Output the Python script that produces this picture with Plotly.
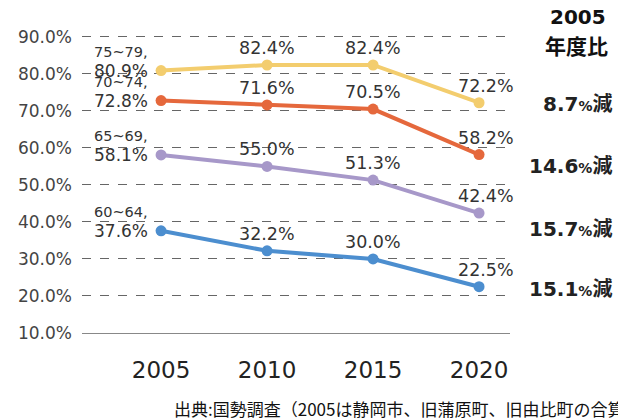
import plotly.graph_objects as go

# Census years and employment rate (%) by age group
years = [2005, 2010, 2015, 2020]
groups = ["75~79", "70~74", "65~69", "60~64"]
rate_75_79 = [80.9, 82.4, 82.4, 72.2]
rate_70_74 = [72.8, 71.6, 70.5, 58.2]
rate_65_69 = [58.1, 55.0, 51.3, 42.4]
rate_60_64 = [37.6, 32.2, 30.0, 22.5]
y_ticks = [10, 20, 30, 40, 50, 60, 70, 80, 90]
source_note = "出典:国勢調査（2005は静岡市、旧蒲原町、旧由比町の合算"

series = [rate_75_79, rate_70_74, rate_65_69, rate_60_64]
colors = ["#F3CD6E", "#E5683C", "#A798C9", "#4C8ECF"]
# vertical spot for each "% decrease vs 2005" note on the right
note_y = [72.4, 55.6, 38.6, 22.4]

L, R, T, B = 82, 108, 35, 87
W, H = 618, 420
PW, PH = W - L - R, H - T - B


def px_x(p):
    return (p - L) / PW


def px_y(p):
    return (H - B - p) / PH


label_font = "DejaVu Sans, sans-serif"
fig = go.Figure()
for vals, col in zip(series, colors):
    fig.add_trace(go.Scatter(
        x=years, y=vals, mode="lines+markers",
        line=dict(color=col, width=4),
        marker=dict(color=col, size=11),
        hoverinfo="skip", showlegend=False, cliponaxis=False,
    ))

ann = []
for g, vals, ny in zip(groups, series, note_y):
    # first-year label: group name above value, left of the point
    ann.append(dict(x=years[0], y=vals[0], xref="x", yref="y", text=g + ",",
                    showarrow=False, xanchor="right", yanchor="middle",
                    xshift=-12, yshift=19, borderpad=0,
                    font=dict(family=label_font, size=14.5, color="#333")))
    ann.append(dict(x=years[0], y=vals[0], xref="x", yref="y",
                    text=f"{vals[0]:.1f}%",
                    showarrow=False, xanchor="right", yanchor="middle",
                    xshift=-12, yshift=0, borderpad=0,
                    font=dict(family=label_font, size=17, color="#333")))
    for i in range(1, len(years)):
        ann.append(dict(x=years[i], y=vals[i], xref="x", yref="y",
                        text=f"{vals[i]:.1f}%", showarrow=False,
                        xanchor="center", yanchor="middle",
                        xshift=7 if i == len(years) - 1 else 0, yshift=17,
                        font=dict(family=label_font, size=17.5, color="#333")))
    drop = vals[0] - vals[-1]
    ann.append(dict(x=px_x(614), y=ny, xref="paper", yref="y",
                    text=(f"<b>{drop:.1f}<span style='font-size:14px'>%</span>"
                          f"<span style='font-family:Noto Sans CJK JP'>減</span></b>"),
                    showarrow=False, xanchor="right", yanchor="middle",
                    font=dict(family="DejaVu Sans", size=20, color="#222")))

ann.append(dict(x=px_x(578), y=px_y(17), xref="paper", yref="paper",
                text="<b>2005</b>",
                showarrow=False, xanchor="center", yanchor="middle",
                font=dict(family="DejaVu Sans", size=20, color="#111")))
ann.append(dict(x=px_x(576), y=px_y(45), xref="paper", yref="paper",
                text="<b>年度比</b>",
                showarrow=False, xanchor="center", yanchor="middle",
                font=dict(family="Noto Sans CJK JP", size=21, color="#111")))
ann.append(dict(x=px_x(172), y=px_y(408), xref="paper", yref="paper",
                text=source_note,
                showarrow=False, xanchor="left", yanchor="middle",
                font=dict(family="Noto Sans CJK JP", size=17, color="#111")))

fig.update_layout(
    width=W, height=H,
    margin=dict(l=L, r=R, t=T, b=B),
    plot_bgcolor="white", paper_bgcolor="white",
    annotations=ann,
    xaxis=dict(
        range=[2001.27, 2021.46], tickvals=years,
        tickfont=dict(family="DejaVu Sans", size=23, color="#222"),
        showgrid=False, zeroline=False, showline=True,
        linecolor="#888", linewidth=1, ticklabelstandoff=16,
    ),
    yaxis=dict(
        range=[10, 90.5], tickvals=y_ticks,
        ticktext=[f"{v:.1f}%" for v in y_ticks],
        tickfont=dict(family=label_font, size=17, color="#444"),
        showgrid=True, gridcolor="#666", griddash="dash", gridwidth=1,
        zeroline=False, showline=False, ticklabelstandoff=9,
    ),
)

fig.write_html("out.html")
